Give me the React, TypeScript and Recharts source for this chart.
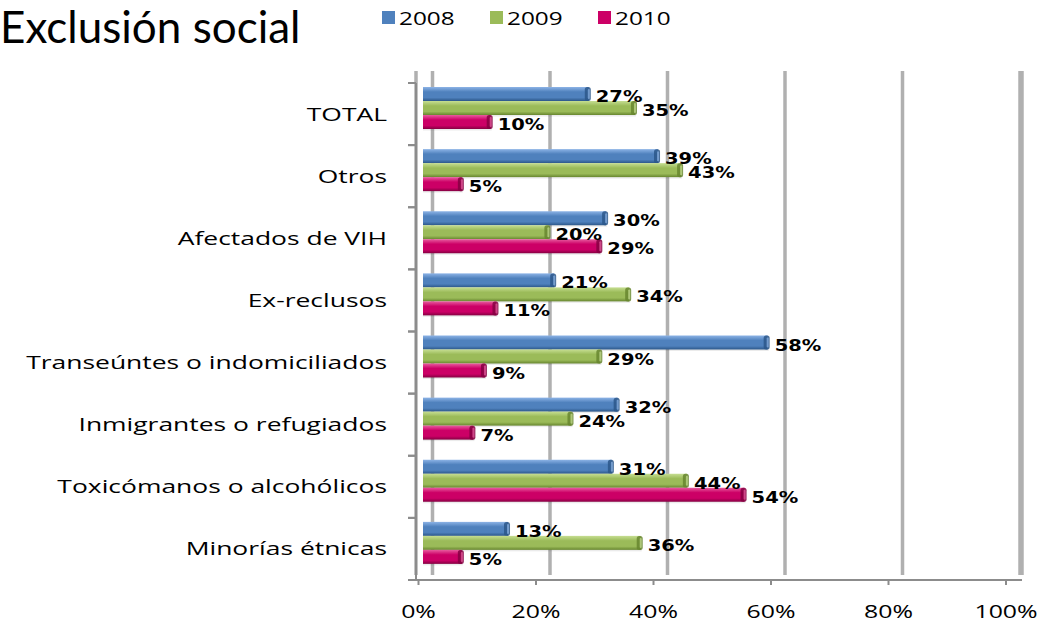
import React from 'react';
import { BarChart, Bar, XAxis, YAxis, CartesianGrid, LabelList, Legend } from 'recharts';

const categories = [
  'TOTAL',
  'Otros',
  'Afectados de VIH',
  'Ex-reclusos',
  'Transeúntes o indomiciliados',
  'Inmigrantes o refugiados',
  'Toxicómanos o alcohólicos',
  'Minorías étnicas',
];
const values2008 = [27, 39, 30, 21, 58, 32, 31, 13];
const values2009 = [35, 43, 20, 34, 29, 24, 44, 36];
const values2010 = [10, 5, 29, 11, 9, 7, 54, 5];
const seriesNames = ['2008', '2009', '2010'];
const xTicks = [0, 20, 40, 60, 80, 100];
const titleText = 'Exclusión social';

const data = categories.map((name, i) => ({
  name,
  v2008: values2008[i],
  v2009: values2009[i],
  v2010: values2010[i],
}));

const seriesStyles = [
  { key: 'v2008', color: '#4F81BD', light: '#8CB3E6', dark: '#2C5789' },
  { key: 'v2009', color: '#9BBB59', light: '#C6DE92', dark: '#67862F' },
  { key: 'v2010', color: '#CC0066', light: '#E85C9F', dark: '#850042' },
];

const AXIS = '#8c8c8c';
const SHIFT_Y = -6;
const DEPTH_X = 10;
const FRONT_X = -14;

const makeShape = (idx: number) => (props: any) => {
  const { x, y, width, height } = props;
  if (!width || width <= 0) return <g />;
  const s = seriesStyles[idx];
  const yy = y + SHIFT_Y;
  return (
    <g>
      <rect x={x - DEPTH_X} y={yy + 1.5} width={width + DEPTH_X + 1} height={height} fill="#000" opacity={0.08} />
      <rect x={x - DEPTH_X} y={yy} width={width + DEPTH_X} height={height} fill={`url(#grad-${idx})`} />
      <rect x={x + width - 4} y={yy} width={6} height={height} rx={2.5} fill={s.dark} opacity={0.85} />
      <rect x={x + width - 1} y={yy + 2} width={2} height={height - 4} rx={1} fill={s.light} opacity={0.7} />
    </g>
  );
};

const renderLabel = (props: any) => {
  const { x, y, width, value } = props;
  const tx = x + width + 7;
  const ty = y + 9;
  return (
    <text
      transform={`translate(${tx},${ty}) scale(1.3,1)`}
      fontFamily="DejaVu Sans"
      fontWeight="bold"
      fontSize={15}
      fill="#000"
    >
      {value}%
    </text>
  );
};

const CategoryTick = (props: any) => {
  const { x, y, payload } = props;
  const half = payload && typeof payload.offset === 'number' && payload.offset > 0 ? payload.offset : 31;
  return (
    <g>
      <line x1={x - 8} x2={x} y1={y - half} y2={y - half} stroke={AXIS} strokeWidth={2} />
      <line x1={x - 8} x2={x} y1={y + half} y2={y + half} stroke={AXIS} strokeWidth={2} />
      <text
        transform={`translate(${x - 29},${y + 6.5}) scale(1.47,1)`}
        textAnchor="end"
        fontFamily="Open Sans"
        fontSize={18}
        fill="#000"
      >
        {payload.value}
      </text>
    </g>
  );
};

const XTick = (props: any) => {
  const { x, y, payload } = props;
  const fx = x + FRONT_X;
  return (
    <g>
      <line x1={fx} x2={fx} y1={y} y2={y + 5} stroke={AXIS} strokeWidth={2} />
      <text
        transform={`translate(${fx},${y + 38}) scale(1.38,1)`}
        textAnchor="middle"
        fontFamily="Open Sans"
        fontSize={18}
        fill="#000"
      >
        {payload.value}%
      </text>
    </g>
  );
};

const renderLegend = (props: any) => {
  const payload = props.payload || [];
  return (
    <div style={{ position: 'relative', width: 1059, height: 40 }}>
      {payload.map((p: any, i: number) => (
        <React.Fragment key={i}>
          <div
            style={{
              position: 'absolute',
              left: 382 + i * 108,
              top: 11,
              width: 13,
              height: 13,
              background: p.color,
            }}
          />
          <span
            style={{
              position: 'absolute',
              left: 399 + i * 108,
              top: 5,
              fontFamily: 'Open Sans',
              fontSize: 19,
              lineHeight: '26px',
              color: '#000',
              whiteSpace: 'nowrap',
              transform: 'scaleX(1.28)',
              transformOrigin: 'left center',
            }}
          >
            {p.value}
          </span>
        </React.Fragment>
      ))}
    </div>
  );
};

export default function App() {
  return (
    <div style={{ position: 'absolute', left: 0, top: 0, width: 1059, height: 624, background: '#fff' }}>
      <div
        style={{
          position: 'absolute',
          left: 0,
          top: 0,
          fontFamily: 'Lato',
          fontSize: 44,
          lineHeight: '53px',
          color: '#000',
          whiteSpace: 'nowrap',
        }}
      >
        {titleText}
      </div>
      <BarChart
        width={1059}
        height={624}
        data={data}
        layout="vertical"
        margin={{ top: 83, right: 37, bottom: 14, left: 0 }}
        barGap={0}
      >
        <defs>
          {seriesStyles.map((s, i) => (
            <linearGradient key={i} id={`grad-${i}`} x1="0" y1="0" x2="0" y2="1">
              <stop offset="0" stopColor={s.light} />
              <stop offset="0.35" stopColor={s.color} />
              <stop offset="0.75" stopColor={s.color} />
              <stop offset="1" stopColor={s.dark} />
            </linearGradient>
          ))}
        </defs>
        <CartesianGrid
          xAxisId="grid"
          horizontal={false}
          vertical
          stroke="#b0b0b0"
          strokeWidth={3.5}
          y={71}
          height={504}
        />
        <XAxis
          xAxisId="grid"
          type="number"
          domain={[-2.809, 100.34]}
          allowDataOverflow
          ticks={xTicks}
          interval={0}
          height={30}
          tickLine={false}
          tickSize={0}
          tickMargin={0}
          axisLine={{ stroke: AXIS, strokeWidth: 2 }}
          tick={(p: any) => <XTick {...p} />}
        />
        <XAxis
          xAxisId="bars"
          type="number"
          domain={[-2.946, 102.08]}
          allowDataOverflow
          height={0}
          hide
        />
        <YAxis
          type="category"
          dataKey="name"
          width={416}
          interval={0}
          tickLine={false}
          tickSize={0}
          tickMargin={0}
          axisLine={{ stroke: AXIS, strokeWidth: 2 }}
          tick={(p: any) => <CategoryTick {...p} />}
        />
        <Legend
          verticalAlign="middle"
          align="center"
          layout="horizontal"
          wrapperStyle={{ position: 'absolute', top: 0, left: 0, width: 1059, height: 40 }}
          content={renderLegend}
        />
        {seriesStyles.map((s, i) => (
          <Bar
            key={s.key}
            xAxisId="bars"
            dataKey={s.key}
            name={seriesNames[i]}
            fill={s.color}
            barSize={14}
            isAnimationActive={false}
            shape={makeShape(i)}
          >
            <LabelList dataKey={s.key} content={renderLabel} />
          </Bar>
        ))}
      </BarChart>
    </div>
  );
}
